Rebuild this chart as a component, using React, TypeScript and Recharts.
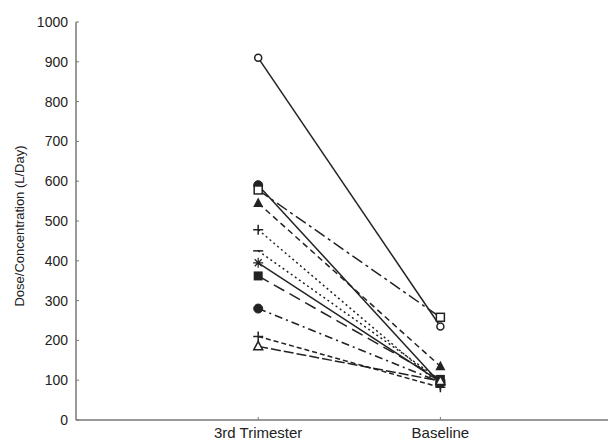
import React from 'react';
import { LineChart, Line, XAxis, YAxis } from 'recharts';

const categories = ['3rd Trimester', 'Baseline'];
const yTicks = [0, 100, 200, 300, 400, 500, 600, 700, 800, 900, 1000];

const subjectIds = ['s1', 's2', 's3', 's4', 's5', 's6', 's7', 's8', 's9', 's10', 's11'];
const trimesterValues = [910, 590, 578, 545, 478, 425, 395, 362, 280, 210, 185];
const baselineValues = [235, 92, 258, 135, 88, 100, 96, 102, 95, 82, 98];
const markers = ['circleOpen', 'circleFilled', 'squareOpen', 'triangleFilled', 'plus', 'minus', 'asterisk', 'squareFilled', 'circleFilled', 'plus', 'triangleOpen'];
const dashes = ['', '', '12 4 3 4', '6 4', '2 3', '2 3', '', '12 6', '8 4 2 4', '5 3', '10 3'];

const data = categories.map((c, i) => {
  const row: Record<string, number> = { x: i + 1 };
  subjectIds.forEach((id, j) => {
    row[id] = i === 0 ? trimesterValues[j] : baselineValues[j];
  });
  return row;
});

const INK = '#222';

function makeDot(kind: string) {
  return (props: any) => {
    const { cx, cy, index } = props;
    const k = `${kind}-${index}`;
    if (cx == null || cy == null) return <g key={k} />;
    switch (kind) {
      case 'circleOpen':
        return <circle key={k} cx={cx} cy={cy} r={3.5} fill="#fff" stroke={INK} strokeWidth={1.5} />;
      case 'circleFilled':
        return <circle key={k} cx={cx} cy={cy} r={4.5} fill={INK} stroke={INK} />;
      case 'squareOpen':
        return <rect key={k} x={cx - 4} y={cy - 4} width={8} height={8} fill="#fff" stroke={INK} strokeWidth={1.5} />;
      case 'squareFilled':
        return <rect key={k} x={cx - 4.5} y={cy - 4.5} width={9} height={9} fill={INK} />;
      case 'triangleFilled':
        return <path key={k} d={`M${cx},${cy - 5.5}L${cx + 5},${cy + 4}L${cx - 5},${cy + 4}Z`} fill={INK} />;
      case 'triangleOpen':
        return <path key={k} d={`M${cx},${cy - 5}L${cx + 4.5},${cy + 3.5}L${cx - 4.5},${cy + 3.5}Z`} fill="#fff" stroke={INK} strokeWidth={1.5} />;
      case 'plus':
        return <path key={k} d={`M${cx - 5},${cy}H${cx + 5}M${cx},${cy - 5}V${cy + 5}`} stroke={INK} strokeWidth={1.5} fill="none" />;
      case 'minus':
        return <path key={k} d={`M${cx - 5},${cy}H${cx + 5}`} stroke={INK} strokeWidth={1.5} fill="none" />;
      case 'asterisk':
        return (
          <path
            key={k}
            d={`M${cx - 5},${cy}H${cx + 5}M${cx},${cy - 5}V${cy + 5}M${cx - 3.5},${cy - 3.5}L${cx + 3.5},${cy + 3.5}M${cx - 3.5},${cy + 3.5}L${cx + 3.5},${cy - 3.5}`}
            stroke={INK}
            strokeWidth={1.2}
            fill="none"
          />
        );
      default:
        return <g key={k} />;
    }
  };
}

const FONT = '"Liberation Sans", Arial, sans-serif';

export default function App() {
  return (
    <div style={{ position: 'absolute', left: 0, top: 0, width: 610, height: 440, background: '#fff' }}>
      <LineChart width={610} height={440} data={data} margin={{ top: 22, right: 2, bottom: 0, left: 0 }}>
        <XAxis
          dataKey="x"
          type="number"
          domain={[0, 2.92]}
          ticks={[1, 2]}
          tickFormatter={(v: number) => categories[v - 1] ?? ''}
          height={20}
          tickSize={-3}
          tickMargin={10}
          axisLine={{ stroke: '#777', strokeWidth: 1.5 }}
          tickLine={{ stroke: '#777' }}
          tick={{ fill: '#222', fontSize: 15, fontFamily: FONT }}
          allowDataOverflow
        />
        <YAxis
          type="number"
          domain={[0, 1000]}
          ticks={yTicks}
          width={76}
          tickSize={-3}
          tickMargin={11}
          interval={0}
          axisLine={{ stroke: '#777', strokeWidth: 1.5 }}
          tickLine={{ stroke: '#777' }}
          tick={{ fill: '#222', fontSize: 14, fontFamily: FONT }}
          label={{
            content: () => (
              <text
                x={24}
                y={226}
                transform="rotate(-90 24 226)"
                textAnchor="middle"
                fill="#222"
                fontSize={13}
                fontFamily={FONT}
              >
                Dose/Concentration (L/Day)
              </text>
            ),
          }}
        />
        {subjectIds.map((id, j) => (
          <Line
            key={id}
            dataKey={id}
            stroke={INK}
            strokeWidth={1.5}
            strokeDasharray={dashes[j] || undefined}
            dot={makeDot(markers[j])}
            activeDot={false}
            isAnimationActive={false}
          />
        ))}
      </LineChart>
    </div>
  );
}
